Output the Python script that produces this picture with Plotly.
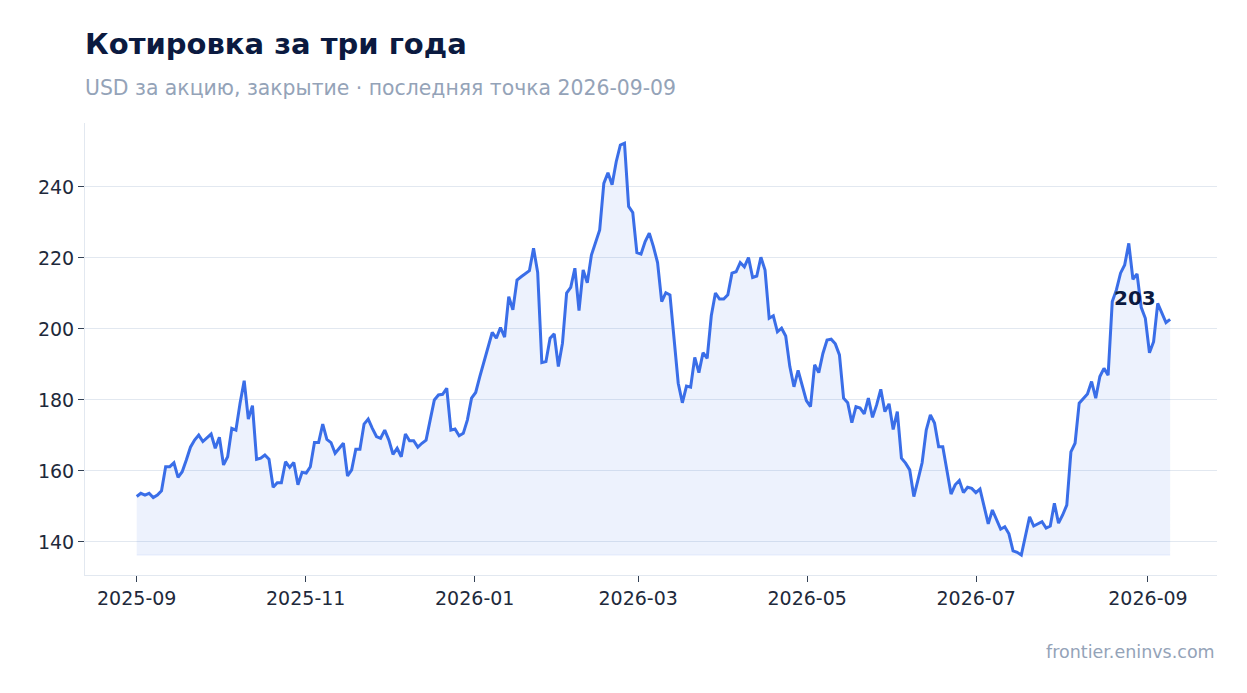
"""
Котировка за три года — дневное закрытие, USD
"""

import pandas as pd
import plotly.graph_objects as go

# даты: равномерно от первой до последней точки
start_date = "2025-09-01"
last_date = "2026-09-09"

# цены закрытия
prices = [
    152.8, 153.7, 153.2, 153.7, 152.5, 153.2, 154.4, 161.2, 161.2, 162.3,
    158.2, 159.8, 163.1, 166.7, 168.7, 170.1, 168.3, 169.5, 170.4, 166.4,
    169.5, 161.7, 164.0, 172.0, 171.5, 179.1, 185.4, 174.6, 178.4, 163.3,
    163.6, 164.5, 163.3, 155.4, 156.7, 156.7, 162.6, 161.0, 162.4, 156.1,
    159.6, 159.4, 161.2, 168.0, 168.0, 173.2, 168.9, 168.0, 165.0, 166.4,
    167.8, 158.6, 160.3, 166.1, 166.1, 173.2, 174.6, 172.0, 169.7, 169.2,
    171.5, 168.7, 164.7, 166.4, 164.0, 170.4, 168.5, 168.5, 166.7, 167.8,
    168.7, 174.4, 180.0, 181.4, 181.6, 183.3, 171.5, 171.8, 169.9,
    170.6, 174.4, 180.5, 182.1, 186.6, 190.8, 194.3, 199.0, 197.4, 200.4,
    197.7, 209.1, 205.4, 213.8, 214.7, 215.5, 216.4, 222.7, 215.9, 190.5,
    190.8, 197.4, 198.6, 189.4, 196.0, 210.1, 211.7, 217.1, 205.2, 216.6,
    213.0, 220.8, 224.3, 227.9,
    241.0, 244.0, 240.6, 247.1, 251.8, 252.3, 234.5, 232.8, 221.5, 221.1,
    224.6, 227.0, 223.2, 218.7, 207.7, 210.2, 209.6, 196.0, 184.7, 179.2,
    183.9, 183.6, 192.0, 187.7, 193.3, 191.7, 203.7, 210.1, 208.4, 208.4,
    209.6, 215.7, 216.1, 218.7, 217.5, 220.1, 214.5, 214.9, 220.2, 216.6,
    203.0, 203.7,
    199.2, 200.2, 198.0, 189.4, 183.7, 188.3, 183.7, 179.8, 178.1, 189.9,
    187.7, 193.1, 196.9, 197.1, 195.8, 192.7, 180.5, 179.2, 173.6, 178.1,
    177.7, 176.1, 180.5, 175.1, 178.6, 183.0, 176.7, 178.9, 171.7, 176.7,
    163.6, 162.2, 160.3, 152.8, 157.5, 162.3, 171.5, 175.8, 173.5,
    166.8, 166.8, 160.3, 153.5, 156.1, 157.3, 153.9, 155.4, 155.1, 153.9,
    154.9, 150.4, 145.1, 149.0, 146.4, 143.6, 144.3, 142.3, 137.5, 137.1,
    136.3, 141.8, 147.1, 144.5, 145.1, 145.7, 143.9, 144.5, 150.9, 145.3,
    147.6, 150.4, 165.4, 167.8, 179.1, 180.5, 181.7, 185.2, 180.5,
    186.6, 188.9, 187.0, 207.7, 211.0, 215.7, 218.0, 224.1, 214.0, 215.5,
    206.1, 203.0, 193.3, 196.4, 207.2, 204.6, 201.8, 202.7,
]

dates = pd.date_range(start_date, last_date, periods=len(prices))
df = pd.DataFrame({"date": dates, "close": prices})

TITLE = "#0b1a40"
MUTED = "#94a3b8"
GRID = "#e2e8f0"
BLUE = "#3a6ee8"
FONT = "DejaVu Sans"

base = df["close"].min()

fig = go.Figure()
# нижняя граница заливки — минимум ряда
fig.add_trace(go.Scatter(
    x=df["date"], y=[base] * len(df),
    mode="lines", line=dict(color="rgba(58,110,232,0.10)", width=1),
    hoverinfo="skip", showlegend=False,
))
fig.add_trace(go.Scatter(
    x=df["date"], y=df["close"],
    mode="lines", line=dict(color=BLUE, width=3),
    fill="tonexty", fillcolor="rgba(58,110,232,0.09)",
    showlegend=False,
))

last = df.iloc[-1]
fig.add_annotation(
    x=last["date"], y=last["close"], text=f"<b>{last['close']:.0f}</b>",
    showarrow=False, xanchor="right", yanchor="middle",
    xshift=-12, yshift=21, font=dict(size=20, color=TITLE, family=FONT),
)

# заголовок, подзаголовок, источник
fig.add_annotation(
    xref="paper", yref="paper", x=0, y=1.175, xanchor="left", yanchor="middle",
    xshift=-2, text="<b>Котировка за три года</b>", showarrow=False,
    font=dict(size=29, color=TITLE, family=FONT),
)
fig.add_annotation(
    xref="paper", yref="paper", x=0, y=1.077, xanchor="left", yanchor="middle",
    xshift=-2, text=f"USD за акцию, закрытие · последняя точка {last_date}",
    showarrow=False, font=dict(size=20.4, color=MUTED, family=FONT),
)
fig.add_annotation(
    xref="paper", yref="paper", x=1, y=-0.17, xanchor="right", yanchor="middle",
    text="frontier.eninvs.com", showarrow=False,
    font=dict(size=17.5, color=MUTED, family=FONT),
)

# страница добавляет отступ 8px, поэтому холст чуть меньше окна
fig.update_layout(
    width=1239, height=685,
    margin=dict(l=77, r=30, t=115, b=118),
    paper_bgcolor="white", plot_bgcolor="white",
    font=dict(family=FONT, size=19, color="#1e293b"),
)
fig.update_xaxes(
    type="date", range=["2025-08-13 08:00", "2026-09-25 22:00"],
    tick0="2025-09-01", dtick="M2", tickformat="%Y-%m",
    showgrid=False, showline=True, linecolor=GRID, linewidth=1,
    ticks="outside", ticklen=6, tickcolor="#334155",
)
fig.update_yaxes(
    range=[130.7, 258], tick0=0, dtick=20,
    showgrid=True, gridcolor=GRID, gridwidth=1, zeroline=False,
    showline=True, linecolor=GRID, linewidth=1,
    ticks="outside", ticklen=6, tickcolor="#334155",
)

fig.write_html("out.html")
